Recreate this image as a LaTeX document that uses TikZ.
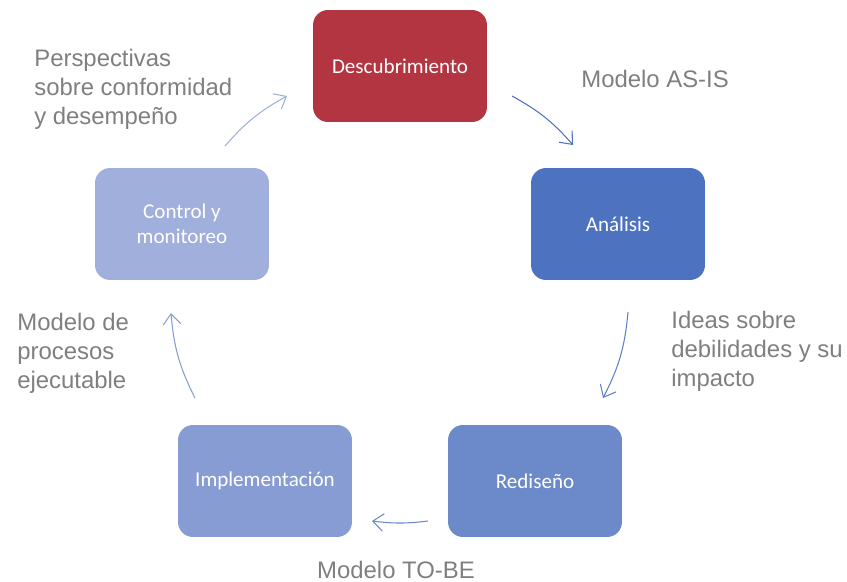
\documentclass[tikz,border=0pt]{standalone}
\usepackage{fontspec}
\setmainfont{Liberation Sans}
\newfontfamily\boxfont{Carlito}
\usetikzlibrary{arrows.meta}
\definecolor{discRed}{HTML}{B33542}
\definecolor{anaBlue}{HTML}{4C72C0}
\definecolor{redBlue}{HTML}{6C89C9}
\definecolor{impBlue}{HTML}{869CD2}
\definecolor{ctlBlue}{HTML}{A0AFDB}
\definecolor{noteGray}{HTML}{7F7F7F}
\tikzset{
  phase/.style={rounded corners=0.3cm, minimum width=3.48cm, minimum height=2.24cm,
    text=white, align=center, font=\boxfont\fontsize{12}{14.2}\selectfont},
  note/.style={text=noteGray, align=left, inner sep=0pt,
    font=\fontsize{13.6}{16.6}\selectfont},
  cyc/.style={line width=0.6pt, -{Straight Barb[length=6pt,width=10pt]}}
}
\newcommand{\phaseBox}[4]{ \node[phase, fill=#4] (#1) at (#2) {#3}; }

\begin{document}
\begin{tikzpicture}[x=0.02cm, y=-0.02cm]
    \useasboundingbox (0,0) rectangle (847,581);
    \phaseBox{desc}{400,66}{Descubrimiento}{discRed}
    \phaseBox{anal}{618,224}{Análisis}{anaBlue}
    \phaseBox{redis}{535,481}{Rediseño}{redBlue}
    \phaseBox{impl}{265,481}{Implementación}{impBlue}
    \phaseBox{ctrl}{182,224}{Control y\\monitoreo}{ctlBlue}
    % notes
    \node[note, anchor=west] (persp) at (34,89) {Perspectivas\\sobre conformidad\\y desempeño};
    \node[note, anchor=west] (asis) at (581,79) {Modelo AS-IS};
    \node[note, anchor=west] (ideas) at (671,351) {Ideas sobre\\debilidades y su\\impacto};
    \node[note] (tobe) at (396,570) {Modelo TO-BE};
    \node[note, anchor=west] (exec) at (17,353) {Modelo de\\procesos\\ejecutable};
    % cycle arrows
    \coordinate (a1s) at (512,96);  \coordinate (a1e) at (573,145);
    \coordinate (a2s) at (628,312); \coordinate (a2e) at (603,398);
    \coordinate (a3s) at (428,521); \coordinate (a3e) at (372,521);
    \coordinate (a4s) at (195,398); \coordinate (a4e) at (171,313);
    \coordinate (a5s) at (225,146); \coordinate (a5e) at (287,96);
    \draw[cyc, anaBlue] (a1s) to[bend left=10] (a1e);
    \draw[cyc, anaBlue!90!white] (a2s) to[bend left=11] (a2e);
    \draw[cyc, redBlue] (a3s) to[bend left=7] (a3e);
    \draw[cyc, impBlue] (a4s) to[bend left=11] (a4e);
    \draw[cyc, ctlBlue] (a5s) to[bend left=10] (a5e);
\end{tikzpicture}
\end{document}
